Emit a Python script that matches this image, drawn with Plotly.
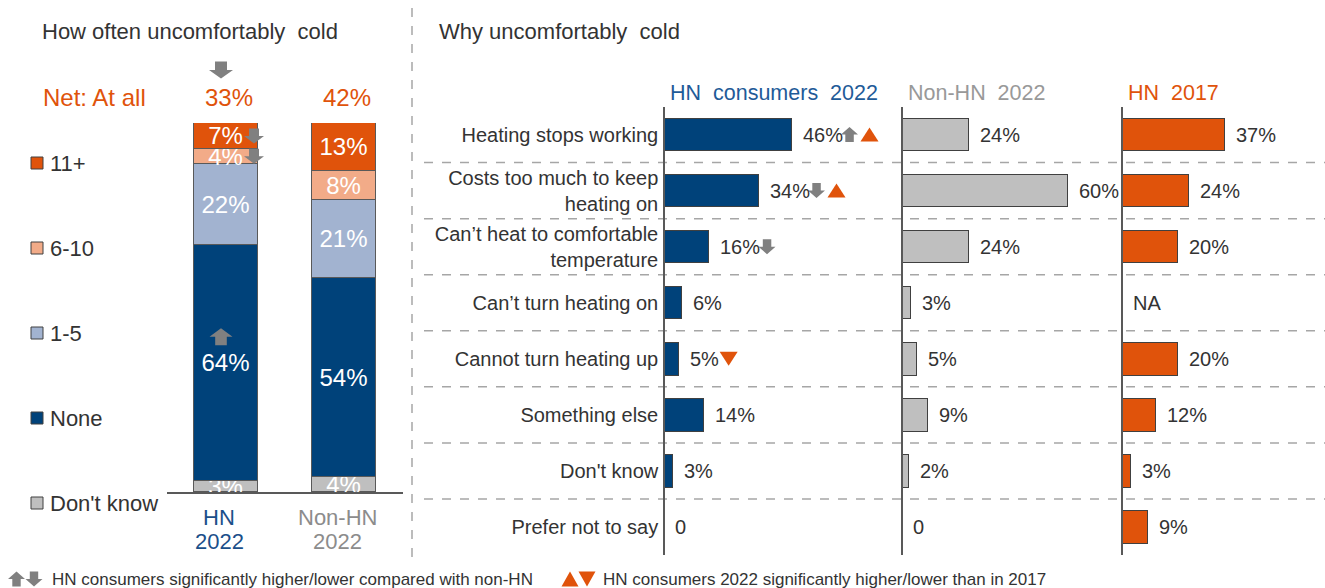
import plotly.graph_objects as go

W, H = 1325, 588
FONT = "Liberation Sans, Arial, sans-serif"

# ---------------- left panel: how often uncomfortably cold ----------------
groups = ["HN 2022", "Non-HN 2022"]
group_lines = [["HN", "2022"], ["Non-HN", "2022"]]
group_colors = ["#1B4F8A", "#8C8C8C"]
freq_levels = ["Don't know", "None", "1-5", "6-10", "11+"]          # stacked bottom -> top
freq_hn = [3, 64, 22, 4, 7]
freq_non = [4, 54, 21, 8, 13]
freq_colors = ["#BFBFBF", "#00427A", "#A2B3D0", "#F2AB88", "#E0530B"]
freq_sig_hn = [None, "up", None, "down", "down"]                   # HN vs non-HN
net_sig = ["down", None]

# ---------------- right panel: why uncomfortably cold ----------------
reasons = [
    "Heating stops working",
    "Costs too much to keep<br>heating on",
    "Can’t heat to comfortable<br>temperature",
    "Can’t turn heating on",
    "Cannot turn heating up",
    "Something else",
    "Don't know",
    "Prefer not to say",
]
series_names = ["HN\u00a0\u00a0consumers\u00a0\u00a02022", "Non-HN\u00a0\u00a02022", "HN\u00a0\u00a02017"]
series_header_colors = ["#1F5B98", "#999999", "#E0530B"]
series_bar_colors = ["#00427A", "#BFBFBF", "#E0530B"]
hn22 = [46, 34, 16, 6, 5, 14, 3, 0]
non22 = [24, 60, 24, 3, 5, 9, 2, 0]
hn17 = [37, 24, 20, None, 20, 12, 3, 9]
sig_vs_non = ["up", "down", "down", None, None, None, None, None]
sig_vs_2017 = ["up", "up", None, None, "down", None, None, None]

ARROW_GREY = "#808080"
ORANGE = "#E0530B"
TEXT = "#333333"

# left plot area in pixels
L_X0, L_X1, L_YTOP, L_YBOT = 167, 403, 123, 492


def fx(p):
    return p / W


def fy(p):
    return 1 - p / H


def left_group_px(i):
    """Pixel x of group i on the left category axis (range -0.5..1.5)."""
    return L_X0 + (L_X1 - L_X0) * (i + 0.5) / 2


def block_arrow(direction, cx, cy, w, h):
    """Block arrow path in pixel offsets (y positive = up)."""
    s = 1 if direction == "up" else -1
    hw, sw = w / 2, w / 4
    pts = [(-hw, 0), (0, s * h / 2), (hw, 0), (sw, 0), (sw, -s * h / 2), (-sw, -s * h / 2), (-sw, 0)]
    return "M " + " L ".join(f"{cx + x:.1f},{cy + y:.1f}" for x, y in pts) + " Z"


def triangle(direction, cx, cy, w, h):
    s = 1 if direction == "up" else -1
    pts = [(-w / 2, -s * h / 2), (0, s * h / 2), (w / 2, -s * h / 2)]
    return "M " + " L ".join(f"{cx + x:.1f},{cy + y:.1f}" for x, y in pts) + " Z"


def pix_shape(path, color, xref, yref, xa, ya):
    return dict(type="path", path=path, xref=xref, yref=yref, xsizemode="pixel", ysizemode="pixel",
                xanchor=xa, yanchor=ya, fillcolor=color, line=dict(width=0), layer="above")


def note(x, y, text, size, color=TEXT, xanchor="left", **kw):
    return dict(x=x, y=y, xref="paper", yref="paper", text=text, xanchor=xanchor, yanchor="middle",
                showarrow=False, font=dict(size=size, color=color), **kw)


CHAR_W = {str(d): 556 for d in range(10)}
CHAR_W.update({"%": 889, "N": 722, "A": 667})


def text_w(s, size):
    return sum(CHAR_W.get(c, 556) for c in s) * size / 1000


fig = go.Figure()
shapes, annotations = [], []

# ---- stacked bars
for i, lvl in enumerate(freq_levels):
    vals = [freq_hn[i], freq_non[i]]
    fig.add_trace(go.Bar(
        x=[0, 1], y=vals, name=lvl, width=0.55, xaxis="x", yaxis="y",
        marker=dict(color=freq_colors[i], line=dict(color="#595959", width=1)),
        text=[f"{v}%" for v in vals], textposition="inside", insidetextanchor="middle",
        constraintext="none", textfont=dict(color="white", size=24, family=FONT),
        showlegend=False, hoverinfo="skip",
    ))

# significance arrows inside the HN bar
cum = 0
for i, v in enumerate(freq_hn):
    mid = cum + v / 2
    cum += v
    d = freq_sig_hn[i]
    if d is None:
        continue
    if d == "up":
        shapes.append(pix_shape(block_arrow("up", -5, 26, 23, 17), ARROW_GREY, "x", "y", 0, mid))
    else:
        shapes.append(pix_shape(block_arrow("down", 28, 0, 20, 15), ARROW_GREY, "x", "y", 0, mid))

# net "at all" values above the bars
for gi, vals in enumerate([freq_hn, freq_non]):
    net = 100 - vals[freq_levels.index("None")] - vals[freq_levels.index("Don't know")]
    annotations.append(dict(x=gi, y=100, xref="x", yref="y", text=f"{net}%", showarrow=False,
                            xanchor="center", yanchor="middle", yshift=25, xshift=3,
                            font=dict(size=24, color=ORANGE)))
    if net_sig[gi]:
        shapes.append(pix_shape(block_arrow(net_sig[gi], -5, 53, 24, 17), ARROW_GREY, "paper", "paper",
                                fx(left_group_px(gi)), fy(L_YTOP)))
    for li, line in enumerate(group_lines[gi]):
        annotations.append(dict(x=gi, y=0, xref="x", yref="y", text=line, showarrow=False,
                                xanchor="center", yanchor="middle", xshift=-7, yshift=-25 - 24 * li,
                                font=dict(size=22, color=group_colors[gi])))

annotations.append(note(fx(41), fy(98), "Net: At all", 24, ORANGE))
annotations.append(note(fx(40), fy(31), "How often uncomfortably\u00a0\u00a0cold", 22))

# legend keys (top: 11+)
for k, i in enumerate(reversed(range(len(freq_levels)))):
    yc = 163 + 85 * k
    shapes.append(dict(type="rect", xref="paper", yref="paper", x0=fx(31), x1=fx(43),
                       y0=fy(yc + 6), y1=fy(yc - 6), fillcolor=freq_colors[i],
                       line=dict(color="#404040", width=1)))
    annotations.append(note(fx(48), fy(yc), freq_levels[i], 22))

# divider
shapes.append(dict(type="line", xref="paper", yref="paper", x0=fx(412), x1=fx(412), y0=fy(8), y1=fy(558),
                   line=dict(color="#A6A6A6", width=1.5, dash="dash")))

# ---- right panel: three horizontal bar columns
PX_PER_PCT = 2.75
cols = [(665, 900), (903, 1120), (1123, 1325)]
rows = list(range(len(reasons)))
all_series = [hn22, non22, hn17]
for si, vals in enumerate(all_series):
    ax = si + 2
    fig.add_trace(go.Bar(
        x=vals, y=rows, orientation="h", width=0.58, xaxis=f"x{ax}", yaxis=f"y{ax}",
        marker=dict(color=series_bar_colors[si], line=dict(color="#404040", width=1)),
        showlegend=False, hoverinfo="skip",
    ))
    x0, x1 = cols[si]
    annotations.append(note(fx(x0 + 3), fy(93), series_names[si], 21.5, series_header_colors[si]))
    for r, v in enumerate(vals):
        label = "NA" if v is None else ("0" if v == 0 else f"{v}%")
        annotations.append(dict(x=v or 0, y=r, xref=f"x{ax}", yref=f"y{ax}", text=label,
                                xanchor="left", yanchor="middle", showarrow=False, xshift=9 if v else 8,
                                font=dict(size=20, color=TEXT)))

# significance markers after the HN 2022 labels
for r, v in enumerate(hn22):
    off = 9 + text_w(f"{v}%", 20)
    if sig_vs_non[r]:
        off += 9
        shapes.append(pix_shape(block_arrow(sig_vs_non[r], off, 0, 17, 15), ARROW_GREY, "x2", "y2", v, r))
        off += 8
    if sig_vs_2017[r]:
        off += 11
        shapes.append(pix_shape(triangle(sig_vs_2017[r], off + 1, 0, 18, 14), ORANGE, "x2", "y2", v, r))

# dashed row separators
for k in range(len(reasons) - 1):
    shapes.append(dict(type="line", xref="paper", yref="y2", x0=fx(424), x1=1, y0=k + 0.5, y1=k + 0.5,
                       line=dict(color="#A6A6A6", width=1.5, dash="dash"), layer="below"))

annotations.append(note(fx(437), fy(31), "Why uncomfortably\u00a0\u00a0cold", 22))

# ---- footer key
FY = 579
shapes.append(pix_shape(block_arrow("up", 0, 0, 17, 15), ARROW_GREY, "paper", "paper", fx(16.5), fy(FY)))
shapes.append(pix_shape(block_arrow("down", 0, 0, 17, 15), ARROW_GREY, "paper", "paper", fx(34), fy(FY)))
shapes.append(pix_shape(triangle("up", 0, 0, 17, 15), ORANGE, "paper", "paper", fx(570), fy(FY)))
shapes.append(pix_shape(triangle("down", 0, 0, 17, 15), ORANGE, "paper", "paper", fx(587), fy(FY)))
annotations.append(note(fx(50), fy(FY), "HN consumers significantly higher/lower compared with non-HN", 17))
annotations.append(note(fx(601), fy(FY), "HN consumers 2022 significantly higher/lower than in 2017", 17))

# ---- axes
hidden = dict(visible=False, showgrid=False, zeroline=False)
layout = dict(
    width=W, height=H, margin=dict(l=0, r=0, t=0, b=0),
    paper_bgcolor="white", plot_bgcolor="white", barmode="stack", bargap=0,
    font=dict(family=FONT, color=TEXT),
    xaxis=dict(domain=[fx(L_X0), fx(L_X1)], range=[-0.5, 1.5], showgrid=False, zeroline=False,
               showticklabels=False, ticks="", showline=True, linecolor="#595959", linewidth=1.5,
               anchor="y", fixedrange=True),
    yaxis=dict(domain=[fy(L_YBOT), fy(L_YTOP)], range=[0, 100], anchor="x", **hidden),
    shapes=shapes, annotations=annotations,
)
for si, (x0, x1) in enumerate(cols):
    ax = si + 2
    layout[f"xaxis{ax}"] = dict(domain=[fx(x0), fx(x1)], range=[0, (x1 - x0) / PX_PER_PCT],
                                anchor=f"y{ax}", **hidden)
    layout[f"yaxis{ax}"] = dict(
        domain=[fy(555), fy(106.5)], range=[len(reasons) - 0.5, -0.5], anchor=f"x{ax}",
        showgrid=False, zeroline=False, showline=True, linecolor="#595959", linewidth=1.5,
        tickvals=rows, ticktext=reasons if si == 0 else [""] * len(reasons),
        showticklabels=(si == 0), ticks="", ticklabelstandoff=1,
        tickfont=dict(size=20, color=TEXT),
    )
fig.update_layout(**layout)

fig.write_html("out.html")
